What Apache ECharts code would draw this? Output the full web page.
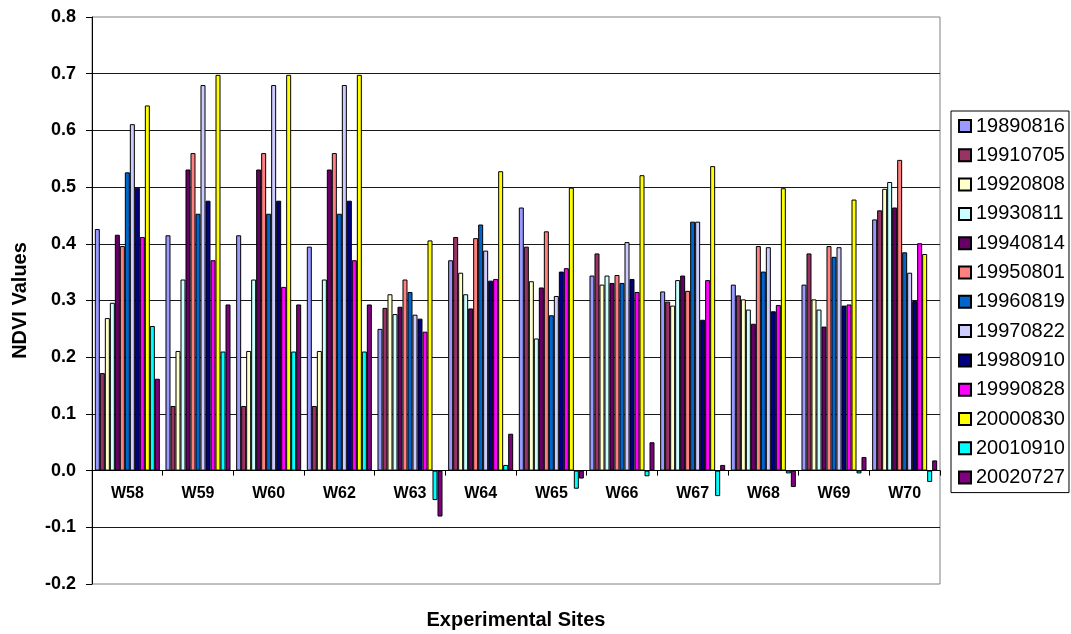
<!DOCTYPE html>
<html>
<head>
<meta charset="utf-8">
<script src="https://cdn.jsdelivr.net/npm/echarts@6/dist/echarts.min.js"></script>
<style>
html,body{margin:0;padding:0;background:#fff;}
#chart{width:1071px;height:634px;}
</style>
</head>
<body>
<div id="chart"></div>
<script>
var categories = ['W58','W59','W60','W62','W63','W64','W65','W66','W67','W68','W69','W70'];
var seriesNames = ['19890816','19910705','19920808','19930811','19940814','19950801','19960819','19970822','19980910','19990828','20000830','20010910','20020727'];
var seriesColors = ['#9999FF','#993366','#FFFFCC','#CCFFFF','#660066','#FF8080','#0066CC','#CCCCFF','#000080','#FF00FF','#FFFF00','#00FFFF','#800080'];

var s19890816 = [0.426, 0.415, 0.415, 0.395, 0.250, 0.371, 0.464, 0.344, 0.316, 0.328, 0.328, 0.443];
var s19910705 = [0.172, 0.114, 0.114, 0.114, 0.287, 0.412, 0.395, 0.383, 0.298, 0.309, 0.383, 0.459];
var s19920808 = [0.269, 0.211, 0.211, 0.211, 0.311, 0.349, 0.334, 0.328, 0.291, 0.302, 0.302, 0.497];
var s19930811 = [0.296, 0.337, 0.337, 0.337, 0.276, 0.311, 0.233, 0.344, 0.336, 0.284, 0.284, 0.509];
var s19940814 = [0.416, 0.531, 0.531, 0.531, 0.289, 0.286, 0.323, 0.331, 0.344, 0.259, 0.254, 0.464];
var s19950801 = [0.396, 0.560, 0.560, 0.560, 0.337, 0.410, 0.422, 0.345, 0.317, 0.396, 0.396, 0.548];
var s19960819 = [0.526, 0.453, 0.453, 0.453, 0.315, 0.434, 0.274, 0.331, 0.439, 0.351, 0.377, 0.385];
var s19970822 = [0.611, 0.680, 0.680, 0.680, 0.275, 0.388, 0.308, 0.403, 0.439, 0.394, 0.394, 0.349];
var s19980910 = [0.499, 0.476, 0.476, 0.476, 0.268, 0.335, 0.351, 0.338, 0.266, 0.281, 0.291, 0.299];
var s19990828 = [0.412, 0.371, 0.324, 0.371, 0.245, 0.338, 0.357, 0.315, 0.336, 0.292, 0.293, 0.401];
var s20000830 = [0.644, 0.698, 0.698, 0.698, 0.406, 0.528, 0.499, 0.521, 0.537, 0.498, 0.478, 0.382];
var s20010910 = [0.255, 0.210, 0.210, 0.210, -0.052, 0.010, -0.032, -0.010, -0.045, -0.005, -0.005, -0.020];
var s20020727 = [0.162, 0.293, 0.293, 0.293, -0.081, 0.065, -0.014, 0.050, 0.010, -0.029, 0.024, 0.018];

var seriesData = [s19890816, s19910705, s19920808, s19930811, s19940814, s19950801, s19960819,
                  s19970822, s19980910, s19990828, s20000830, s20010910, s20020727];

var yMin = -0.2, yMax = 0.8, yStep = 0.1;
var FONT = '"Liberation Sans", Arial, sans-serif';

var GRID_TOP = 17, GRID_BOTTOM = 50, CHART_H = 634;
var plotH = CHART_H - GRID_TOP - GRID_BOTTOM;
// move the category axis (line, ticks and labels) up to the value 0
var zeroOffset = -plotH * (0 - yMin) / (yMax - yMin);

var chart = echarts.init(document.getElementById('chart'), null, {renderer: 'canvas'});

var series = seriesNames.map(function (name, i) {
  return {
    name: name,
    type: 'bar',
    data: seriesData[i],
    barGap: '0%',
    barCategoryGap: '8%',
    itemStyle: {color: seriesColors[i], borderColor: '#000', borderWidth: 1},
    emphasis: {disabled: true}
  };
});

chart.setOption({
  animation: false,
  backgroundColor: '#fff',
  textStyle: {fontFamily: FONT},
  grid: {left: 92, right: 131, top: GRID_TOP, bottom: GRID_BOTTOM, show: true, borderColor: '#808080', borderWidth: 1, backgroundColor: '#fff'},
  legend: {
    orient: 'vertical',
    left: 951,
    top: 111,
    padding: [5, 4, 5, 7],
    itemWidth: 12,
    itemHeight: 12,
    itemGap: 9.3,
    borderColor: '#000',
    borderWidth: 1,
    backgroundColor: '#fff',
    icon: 'rect',
    textStyle: {fontSize: 20, color: '#000', fontFamily: FONT},
    data: seriesNames
  },
  xAxis: {
    type: 'category',
    data: categories,
    position: 'bottom',
    offset: zeroOffset,
    axisLine: {show: true, onZero: false, lineStyle: {color: '#000', width: 1}},
    axisTick: {show: true, length: 5, lineStyle: {color: '#000'}},
    axisLabel: {fontSize: 16, fontWeight: 'bold', color: '#000', margin: 15, fontFamily: FONT},
    splitLine: {show: false}
  },
  yAxis: {
    type: 'value',
    min: yMin,
    max: yMax,
    interval: yStep,
    name: 'NDVI Values',
    nameLocation: 'middle',
    nameGap: 62,
    nameTextStyle: {fontSize: 20, fontWeight: 'bold', color: '#000', fontFamily: FONT},
    axisLine: {show: true, onZero: false, lineStyle: {color: '#000', width: 1}},
    axisTick: {show: true, length: 6, lineStyle: {color: '#000'}},
    axisLabel: {
      fontSize: 18, fontWeight: 'bold', color: '#000', margin: 16, fontFamily: FONT,
      formatter: function (v) { return Math.abs(v) < 1e-9 ? '0.0' : v.toFixed(1); }
    },
    splitLine: {show: true, showMinLine: false, showMaxLine: false, lineStyle: {color: '#1a1a1a', width: 1}}
  },
  graphic: [{
    type: 'text',
    style: {
      x: 516, y: 620, text: 'Experimental Sites', textAlign: 'center', textVerticalAlign: 'middle',
      font: 'bold 20px ' + FONT, fill: '#000'
    }
  }],
  series: series
});
</script>
</body>
</html>
